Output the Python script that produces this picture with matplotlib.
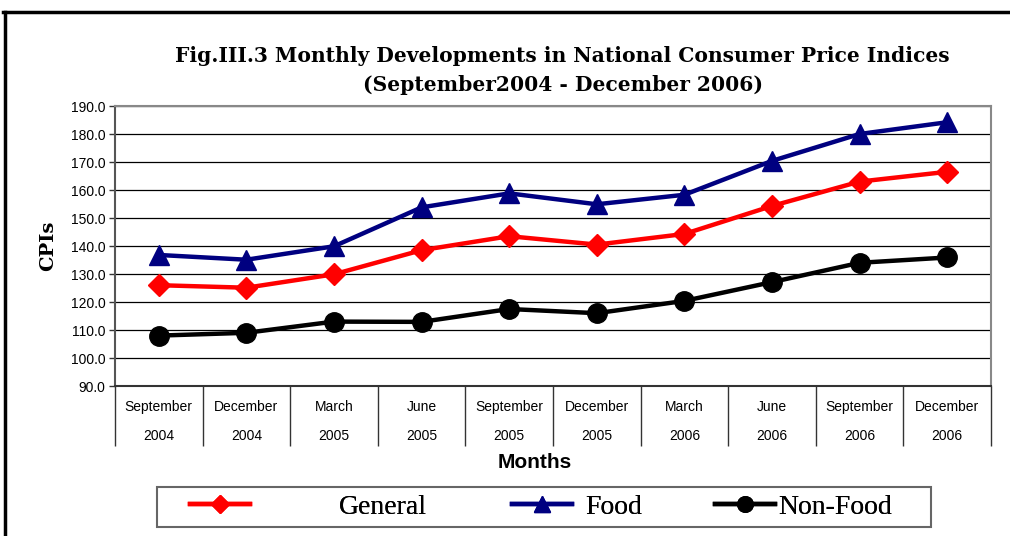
import numpy as np
import matplotlib.pyplot as plt
from matplotlib.patches import Rectangle
from matplotlib.lines import Line2D

# =========================
# Data
# =========================
months = ["September", "December", "March", "June", "September",
          "December", "March", "June", "September", "December"]
years = ["2004", "2004", "2005", "2005", "2005",
         "2005", "2006", "2006", "2006", "2006"]

general = [126.0, 125.1, 129.9, 138.5, 143.5, 140.5, 144.3, 154.3, 163.0, 166.5]
food = [136.8, 135.1, 139.9, 153.8, 158.8, 154.9, 158.3, 170.4, 180.0, 184.2]
non_food = [108.0, 109.0, 113.0, 112.9, 117.5, 116.0, 120.4, 127.1, 134.0, 135.9]

y_ticks = [90, 100, 110, 120, 130, 140, 150, 160, 170, 180, 190]

# =========================
# Figure
# =========================
fig = plt.figure(figsize=(10.1, 5.36), dpi=100)
ax = fig.add_axes([115 / 1010, 1 - 386 / 536, 876 / 1010, 280 / 536])

x = np.arange(len(months)) + 0.5

h_gen, = ax.plot(x, general, color="#ff0000", lw=3.2, marker="D", ms=11,
                 label="General", zorder=3)
h_food, = ax.plot(x, food, color="#000080", lw=3.2, marker="^", ms=14,
                  label="Food", zorder=3)
h_nf, = ax.plot(x, non_food, color="black", lw=3.2, marker="o", ms=14,
                label="Non-Food", zorder=3)

ax.set_xlim(0, len(months))
ax.set_ylim(90, 190)
ax.set_yticks(y_ticks)
ax.set_yticklabels([f"{v:.1f}" for v in y_ticks], fontsize=10,
                   family="Liberation Sans")
ax.tick_params(axis="y", length=4, width=1, color="#333333", pad=3)
ax.grid(axis="y", color="black", lw=0.9)
ax.set_axisbelow(True)

# category separators hanging below the axis
ax.set_xticks(np.arange(len(months) + 1))
ax.set_xticklabels([])
ax.tick_params(axis="x", length=43, width=1, color="#333333")

for xi, m, yr in zip(x, months, years):
    ax.text(xi, -0.075, m, transform=ax.get_xaxis_transform(),
            ha="center", va="center", fontsize=10, family="Liberation Sans")
    ax.text(xi, -0.179, yr, transform=ax.get_xaxis_transform(),
            ha="center", va="center", fontsize=10, family="Liberation Sans")

for s in ["top", "right"]:
    ax.spines[s].set_color("#888888")
    ax.spines[s].set_linewidth(1.5)
ax.spines["left"].set_color("#555555")
ax.spines["left"].set_linewidth(1.5)
ax.spines["bottom"].set_color("#333333")
ax.spines["bottom"].set_linewidth(1.5)

ax.text(0.479, -0.272, "Months", transform=ax.transAxes, ha="center",
        va="center", fontsize=15, fontweight="bold", family="Liberation Sans")
ax.text(-0.0765, 0.5, "CPIs", transform=ax.transAxes, ha="center",
        va="center", rotation=90, fontsize=14, fontweight="bold",
        family="DejaVu Serif")

# =========================
# Title
# =========================
fig.text(0.557, 1 - 56 / 536, "Fig.III.3 Monthly Developments in National Consumer Price Indices",
         ha="center", va="center", fontsize=14.6, fontweight="bold",
         family="DejaVu Serif")
fig.text(0.557, 1 - 85 / 536, "(September2004 - December 2006)",
         ha="center", va="center", fontsize=14.6, fontweight="bold",
         family="DejaVu Serif")

# =========================
# Legend (one entry per legend so each can sit where the original does)
# =========================
fig.add_artist(Rectangle((157 / 1010, 1 - 527 / 536), 774 / 1010, 40 / 536,
                         transform=fig.transFigure, fill=False,
                         edgecolor="#666666", lw=1.5))

leg_font = {"family": "Liberation Serif", "size": 20}
leg_y = 1 - 507 / 536
entries = [(h_gen, "General", 190, 3.2), (h_food, "Food", 512, 0.5),
           (h_nf, "Non-Food", 715, 0.12)]
for handle, lab, x_px, pad in entries:
    leg = fig.legend([handle], [lab], loc="center left",
                     bbox_to_anchor=(x_px / 1010, leg_y), frameon=False,
                     prop=leg_font, handlelength=2.15, handletextpad=pad,
                     borderpad=0, borderaxespad=0, markerscale=0.8)
    fig.add_artist(leg)

# outer frame lines (top and left)
fig.add_artist(Line2D([3 / 1010, 1.0], [1 - 11.5 / 536] * 2, color="black", lw=2.5,
                      transform=fig.transFigure))
fig.add_artist(Line2D([5 / 1010] * 2, [0.0, 1 - 11.5 / 536], color="black", lw=2.5,
                      transform=fig.transFigure))

fig.savefig("out.png", dpi=100)
